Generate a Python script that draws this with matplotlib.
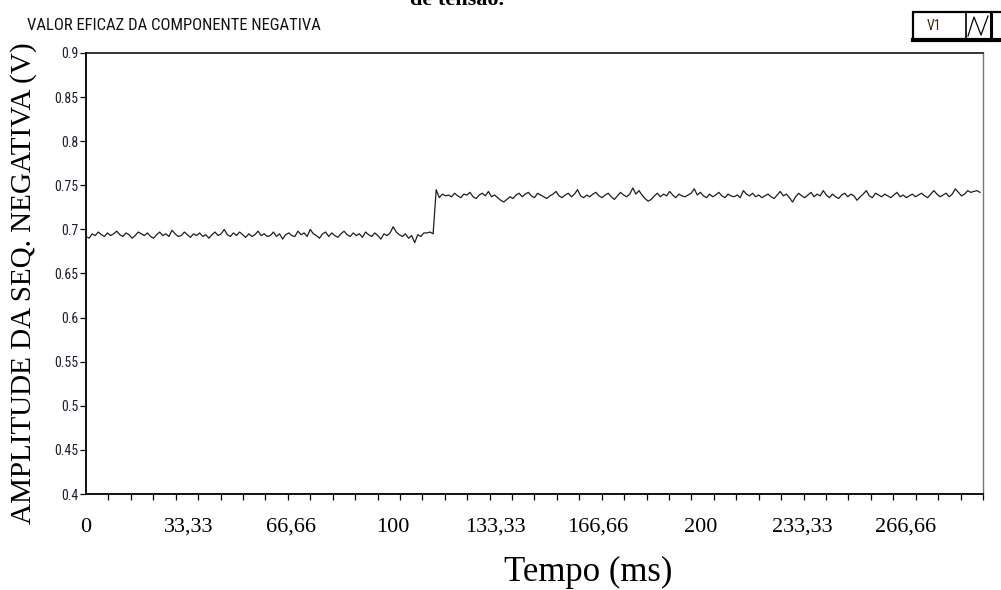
import numpy as np
import matplotlib
matplotlib.use("Agg")
import matplotlib.pyplot as plt
from matplotlib.patches import Rectangle
from matplotlib.lines import Line2D

# amplitude of negative sequence (V), one sample per ms
amp_before = [
    0.692, 0.690, 0.695, 0.693, 0.697, 0.694, 0.692, 0.696, 0.693, 0.695,
    0.698, 0.694, 0.692, 0.696, 0.694, 0.690, 0.693, 0.697, 0.695, 0.693,
    0.696, 0.692, 0.690, 0.694, 0.697, 0.693, 0.695, 0.692, 0.699, 0.695,
    0.692, 0.693, 0.697, 0.694, 0.691, 0.695, 0.693, 0.696, 0.692, 0.694,
    0.690, 0.694, 0.697, 0.693, 0.695, 0.700, 0.694, 0.692, 0.696, 0.693,
    0.697, 0.694, 0.691, 0.695, 0.692, 0.694, 0.698, 0.693, 0.695, 0.692,
    0.693, 0.697, 0.692, 0.695, 0.689, 0.694, 0.696, 0.693, 0.692, 0.698,
    0.694, 0.696, 0.692, 0.700, 0.695, 0.693, 0.690, 0.695, 0.697, 0.692,
    0.696, 0.693, 0.691, 0.695, 0.698, 0.694, 0.692, 0.696, 0.693, 0.695,
    0.691, 0.697, 0.694, 0.692, 0.696, 0.693, 0.689, 0.695, 0.693, 0.696,
    0.703, 0.697, 0.694, 0.692, 0.695, 0.690, 0.693, 0.685, 0.694, 0.692,
    0.696, 0.696, 0.697, 0.695,
]
amp_after = [
    0.745, 0.736, 0.740, 0.738, 0.739, 0.737, 0.741, 0.738, 0.736, 0.740,
    0.739, 0.742, 0.737, 0.735, 0.739, 0.741, 0.738, 0.743, 0.737, 0.739,
    0.736, 0.733, 0.731, 0.734, 0.737, 0.735, 0.739, 0.741, 0.737, 0.740,
    0.742, 0.738, 0.736, 0.741, 0.739, 0.737, 0.735, 0.738, 0.740, 0.743,
    0.738, 0.736, 0.739, 0.741, 0.737, 0.740, 0.745, 0.738, 0.736, 0.739,
    0.737, 0.740, 0.742, 0.738, 0.736, 0.739, 0.741, 0.737, 0.734, 0.738,
    0.742, 0.739, 0.737, 0.740, 0.747, 0.740, 0.744, 0.739, 0.735, 0.732,
    0.734, 0.738, 0.741, 0.737, 0.740, 0.738, 0.743, 0.739, 0.736, 0.740,
    0.738, 0.737, 0.739, 0.741, 0.746, 0.739, 0.742, 0.738, 0.736, 0.740,
    0.737, 0.739, 0.742, 0.738, 0.736, 0.740, 0.738, 0.737, 0.739, 0.736,
    0.744, 0.740, 0.738, 0.741, 0.737, 0.739, 0.736, 0.738, 0.740, 0.737,
    0.735, 0.739, 0.743, 0.738, 0.740, 0.736, 0.731, 0.737, 0.741, 0.738,
    0.736, 0.739, 0.742, 0.737, 0.740, 0.738, 0.744, 0.739, 0.736, 0.740,
    0.737, 0.735, 0.739, 0.741, 0.737, 0.740, 0.738, 0.733, 0.737, 0.740,
    0.744, 0.738, 0.736, 0.741, 0.739, 0.737, 0.740, 0.738, 0.736, 0.739,
    0.742, 0.737, 0.739, 0.736, 0.738, 0.740, 0.737, 0.739, 0.741, 0.738,
    0.736, 0.740, 0.744, 0.740, 0.737, 0.739, 0.741, 0.737, 0.740, 0.746,
    0.742, 0.738, 0.740, 0.744, 0.742, 0.743, 0.744, 0.742,
]
amplitude = amp_before + amp_after

x_labels = ["0", "33,33", "66,66", "100", "133,33", "166,66", "200", "233,33", "266,66"]
x_label_pos = [0, 33.33, 66.66, 100, 133.33, 166.66, 200, 233.33, 266.66]
y_ticks = [0.4, 0.45, 0.5, 0.55, 0.6, 0.65, 0.7, 0.75, 0.8, 0.85, 0.9]
y_labels = ["0.4", "0.45", "0.5", "0.55", "0.6", "0.65", "0.7", "0.75", "0.8", "0.85", "0.9"]

t = np.arange(len(amplitude))  # ms
x_max = 292

# narrow sans for the instrument texts, whichever condensed face exists
narrow = ["DejaVu Sans Condensed", "Liberation Sans Narrow", "Roboto Condensed",
          "Liberation Sans"]
serif = ["Liberation Serif", "DejaVu Serif"]

fig = plt.figure(figsize=(10.01, 5.90), dpi=100)
ax = fig.add_axes([86 / 1001, 96 / 590, 897 / 1001, 441 / 590])

ax.plot(t, amplitude, color="#1e1e1e", lw=0.9)
ax.set_xlim(0, x_max)
ax.set_ylim(0.4, 0.9)

# y axis: small narrow labels
ax.set_yticks(y_ticks)
ax.set_yticklabels(y_labels, family=narrow, fontstretch="condensed",
                   fontsize=10, color="#1c1c30")
ax.tick_params(axis="y", direction="out", length=4, width=0.9, pad=1.5)

# x axis: unlabeled ticks from the chart, labels typed below in Times
ax.set_xticks(np.linspace(0, x_max, 41), minor=True)
ax.set_xticks(x_label_pos)
ax.set_xticklabels(x_labels, family=serif, fontsize=16)
for lab in ax.get_xticklabels():
    lab.set_verticalalignment("baseline")
ax.tick_params(axis="x", which="major", length=0, pad=27)
ax.tick_params(axis="x", which="minor", direction="out", length=4, width=0.9)

for side in ["left", "bottom"]:
    ax.spines[side].set_linewidth(1.4)
    ax.spines[side].set_color("#111111")
ax.spines["top"].set_linewidth(1.2)
ax.spines["top"].set_color("#111111")
ax.spines["right"].set_linewidth(1.0)
ax.spines["right"].set_color("#777777")

ax.set_ylabel("AMPLITUDE DA SEQ. NEGATIVA (V)", family=serif, fontsize=21)
ax.yaxis.set_label_coords(-49 / 897, 0.478)
fig.text(588 / 1001, 1 - 572 / 590, "Tempo (ms)", family=serif, fontsize=25,
         ha="center", va="center")

# chart title from the instrument panel
fig.text(27 / 1001, 1 - 25 / 590, "VALOR EFICAZ DA COMPONENTE NEGATIVA",
         family=narrow, fontstretch="condensed", fontsize=12,
         ha="left", va="center", color="#111111")

# caption cut off at the top of the page
fig.text(457 / 1001, 1 - 5 / 590, "de tensão.", family=serif, fontsize=16,
         fontweight="bold", ha="center", va="baseline")

# plot legend box at the top right
H = 590.0
W = 1001.0
def fx(px):
    return px / W
def fy(py):
    return 1 - py / H

fig.patches.append(Rectangle((fx(913), fy(40)), fx(1010) - fx(913), (40 - 12) / H,
                             transform=fig.transFigure, fill=False,
                             edgecolor="black", lw=1.6))
fig.lines.append(Line2D([fx(913), fx(1001)], [fy(40), fy(40)],
                        transform=fig.transFigure, color="black", lw=3))
fig.lines.append(Line2D([fx(966), fx(966)], [fy(12), fy(40)],
                        transform=fig.transFigure, color="black", lw=1.2))
fig.lines.append(Line2D([fx(991), fx(991)], [fy(12), fy(40)],
                        transform=fig.transFigure, color="black", lw=2.2))
fig.lines.append(Line2D([fx(968), fx(974), fx(981), fx(988)],
                        [fy(36), fy(17), fy(35), fy(16)],
                        transform=fig.transFigure, color="black", lw=0.9))
fig.text(fx(934), fy(26), "V1", family=narrow, fontstretch="condensed",
         fontsize=10, ha="center", va="center", color="#3a2a10")

fig.savefig("out.png", dpi=100)
